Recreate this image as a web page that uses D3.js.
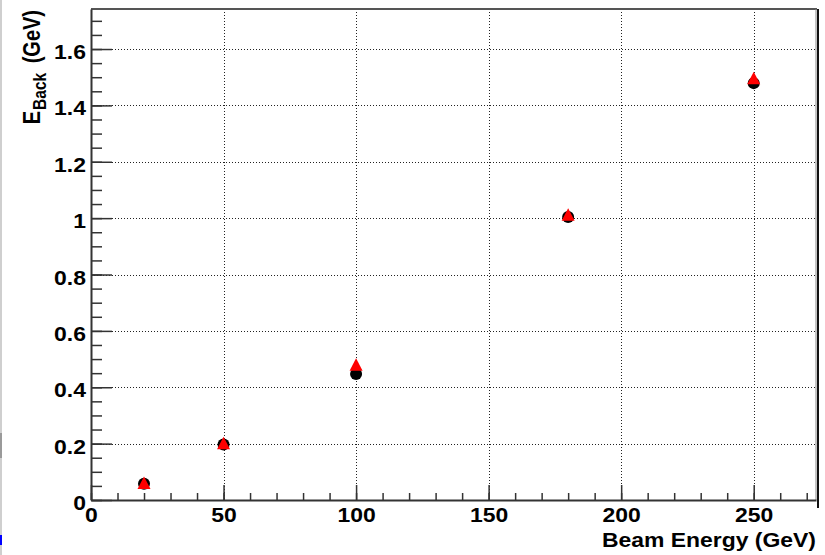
<!DOCTYPE html>
<html>
<head>
<meta charset="utf-8">
<script src="https://cdn.jsdelivr.net/npm/d3@7"></script>
<style>
  body { margin: 0; background: #fff; }
  text { font-family: "Liberation Sans", Arial, Helvetica, sans-serif; font-weight: bold; fill: #000; }
</style>
</head>
<body>
<svg id="chart" width="825" height="555"></svg>
<script>
// Back energy versus beam energy, two measurements
const beamEnergy    = [20, 50, 100, 180, 250];
const eBackCircle   = [0.058, 0.197, 0.447, 1.004, 1.479];
const eBackTriangle = [0.060, 0.201, 0.480, 1.012, 1.496];

const xTicks = [0, 50, 100, 150, 200, 250];
const yTicks = [0, 0.2, 0.4, 0.6, 0.8, 1, 1.2, 1.4, 1.6];
const xMinorStep = 10;
const yMinorStep = 0.05;

const svg = d3.select("#chart");
const W = 825, H = 555;
const plotLeft = 91, plotRight = 816, plotTop = 9, plotBottom = 500;
const stretch = 1.17;   // text is drawn slightly wide
const fontSize = 19.6;

const x = d3.scaleLinear().domain([0, 273.5]).range([plotLeft, plotRight]);
const y = d3.scaleLinear().domain([0, 1.742]).range([plotBottom, plotTop]);

const xMinor = d3.range(0, 273.5, xMinorStep);
const yMinor = d3.range(0, 1.742, yMinorStep).map(v => +v.toFixed(2));

svg.append("rect").attr("width", W).attr("height", H).attr("fill", "#fff");

// window edge strip on the left
svg.append("rect").attr("x", 0).attr("y", 0).attr("width", 2).attr("height", H).attr("fill", "#cfcfcf");
svg.append("rect").attr("x", 0).attr("y", 433).attr("width", 2).attr("height", 25).attr("fill", "#9a9a9a");
svg.append("rect").attr("x", 0).attr("y", 535).attr("width", 2).attr("height", 10).attr("fill", "#0000ff");

// dotted grid at major ticks
const grid = svg.append("g").attr("stroke", "#222").attr("stroke-width", 1).attr("stroke-dasharray", "1,2");
grid.selectAll("line.gx").data(xTicks.filter(d => d > 0)).join("line")
  .attr("class", "gx")
  .attr("x1", d => Math.round(x(d)) + 0.5).attr("x2", d => Math.round(x(d)) + 0.5)
  .attr("y1", plotTop).attr("y2", plotBottom);
grid.selectAll("line.gy").data(yTicks.filter(d => d > 0)).join("line")
  .attr("class", "gy")
  .attr("y1", d => Math.round(y(d)) + 0.5).attr("y2", d => Math.round(y(d)) + 0.5)
  .attr("x1", plotLeft).attr("x2", plotRight);

// frame: top and right
svg.append("line").attr("x1", plotLeft).attr("x2", plotRight + 1).attr("y1", plotTop).attr("y2", plotTop)
  .attr("stroke", "#555").attr("stroke-width", 2);
svg.append("line").attr("x1", plotRight).attr("x2", plotRight).attr("y1", plotTop).attr("y2", plotBottom)
  .attr("stroke", "#888").attr("stroke-width", 1);
svg.append("line").attr("x1", plotRight + 2).attr("x2", plotRight + 2).attr("y1", plotTop).attr("y2", 508)
  .attr("stroke", "#111").attr("stroke-width", 2);

function styleAxis(g, width) {
  g.select(".domain").attr("stroke", "#333").attr("stroke-width", 2);
  g.selectAll(".tick line").attr("stroke", "#333").attr("stroke-width", width);
}

// y axis: minor then major ticks (pointing inward)
const gyMinor = svg.append("g").attr("transform", `translate(${plotLeft},0)`)
  .call(d3.axisLeft(y).tickValues(yMinor).tickSize(-11).tickSizeOuter(0).tickFormat(""));
styleAxis(gyMinor, 1.5);
const gy = svg.append("g").attr("transform", `translate(${plotLeft},0)`)
  .call(d3.axisLeft(y).tickValues(yTicks).tickSize(-21).tickSizeOuter(0)
    .tickFormat(d => String(+d.toFixed(1))));
styleAxis(gy, 1.5);
gy.select(".domain").remove();
gy.selectAll(".tick text")
  .attr("x", null).attr("dy", null).attr("y", null)
  .attr("text-anchor", "end")
  .attr("font-size", fontSize)
  .attr("transform", `translate(-5,9.5) scale(${stretch},1)`);

// x axis: minor then major ticks (pointing inward)
const gxMinor = svg.append("g").attr("transform", `translate(0,${plotBottom})`)
  .call(d3.axisBottom(x).tickValues(xMinor).tickSize(-7).tickSizeOuter(0).tickFormat(""));
styleAxis(gxMinor, 1.5);
const gx = svg.append("g").attr("transform", `translate(0,${plotBottom})`)
  .call(d3.axisBottom(x).tickValues(xTicks).tickSize(-15).tickSizeOuter(0).tickFormat(d3.format("d")));
styleAxis(gx, 1.5);
gx.select(".domain").remove();
gx.selectAll(".tick text")
  .attr("y", null).attr("dy", null).attr("x", null)
  .attr("text-anchor", "middle")
  .attr("font-size", fontSize)
  .attr("transform", `translate(0,22) scale(${stretch},1)`);

// axis titles
svg.append("text")
  .attr("text-anchor", "end")
  .attr("font-size", fontSize)
  .attr("transform", `translate(${plotRight},547) scale(${stretch},1)`)
  .text("Beam Energy (GeV)");

const yTitle = svg.append("text")
  .attr("text-anchor", "end")
  .attr("font-size", 20)
  .attr("transform", `translate(40,10) scale(${stretch},1) rotate(-90)`);
yTitle.append("tspan").text("E");
yTitle.append("tspan").attr("font-size", 15.5).attr("dx", 1).attr("dy", 5).text("Back");
yTitle.append("tspan").attr("dx", 4).attr("dy", -5).text(" (GeV)");

// markers
const pts = beamEnergy.map((e, i) => ({ e, c: eBackCircle[i], t: eBackTriangle[i] }));
svg.append("g").selectAll("circle").data(pts).join("circle")
  .attr("cx", d => x(d.e)).attr("cy", d => y(d.c)).attr("r", 6).attr("fill", "#000");
svg.append("g").selectAll("path").data(pts).join("path")
  .attr("d", d => {
    const cx = x(d.e), cy = y(d.t), h = 6.5;
    return `M${cx},${cy - h}L${cx + h},${cy + h - 0.5}L${cx - h},${cy + h - 0.5}Z`;
  })
  .attr("fill", "#ff0000");
</script>
</body>
</html>
